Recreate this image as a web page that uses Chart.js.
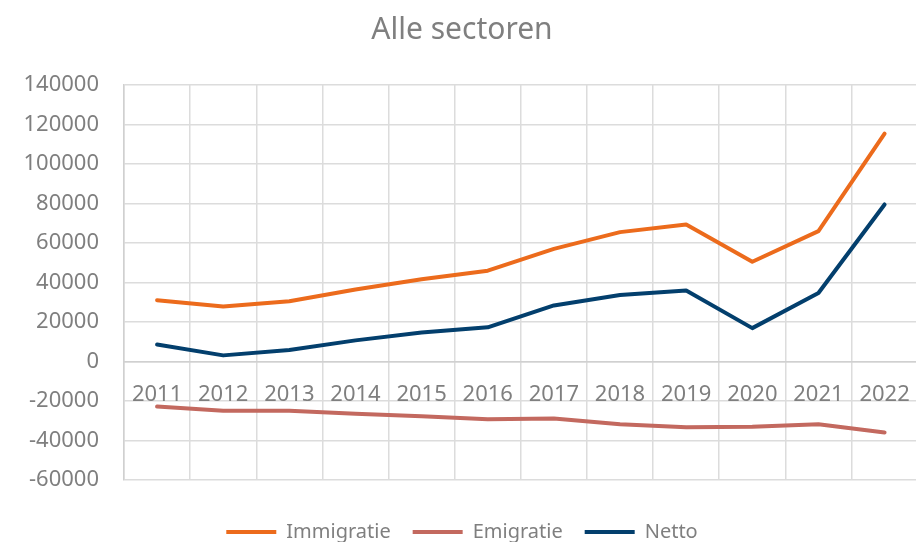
<!DOCTYPE html>
<html>
<head>
<meta charset="utf-8">
<script src="https://cdn.jsdelivr.net/npm/chart.js@4"></script>
<style>
  html, body { margin: 0; padding: 0; background: #fff; overflow: hidden; }
  #wrap { width: 916px; height: 542px; overflow: hidden; }
</style>
</head>
<body>
<div id="wrap"><canvas id="grafiek" width="930" height="552"></canvas></div>
<script>
// jaren en reeksen
const jaren = ['2011', '2012', '2013', '2014', '2015', '2016', '2017', '2018', '2019', '2020', '2021', '2022'];
const immigratie = [31000, 27900, 30500, 36500, 41600, 46000, 57000, 65500, 69400, 50500, 66000, 115400];
const emigratie = [-22800, -24900, -24900, -26400, -27700, -29200, -28900, -31800, -33300, -33000, -31800, -36000];
const netto = [8600, 3100, 5800, 10700, 14700, 17300, 28400, 33700, 36000, 16900, 34700, 79500];

const grijs = '#7f7f7f';
const lijn = (label, data, kleur) => ({
  label, data,
  borderColor: kleur, backgroundColor: kleur,
  borderWidth: 4, borderCapStyle: 'round', borderJoinStyle: 'round',
  pointRadius: 0, tension: 0, fill: false
});

new Chart(document.getElementById('grafiek').getContext('2d'), {
  type: 'line',
  data: {
    labels: jaren,
    datasets: [
      lijn('Immigratie', immigratie, '#ec6b1c'),
      lijn('Emigratie', emigratie, '#c3695f'),
      lijn('Netto', netto, '#033f6d')
    ]
  },
  options: {
    responsive: false,
    animation: false,
    layout: { padding: { left: 0, right: 6, top: 0, bottom: 0 } },
    plugins: {
      title: {
        display: true,
        text: 'Alle sectoren',
        color: grijs,
        font: { family: 'Noto Sans', size: 30, weight: 'normal' },
        padding: { top: 12, bottom: 37 }
      },
      legend: {
        position: 'bottom',
        title: { display: true, text: ' ', font: { size: 10 }, padding: 4 },
        labels: {
          color: grijs,
          font: { family: 'Noto Sans', size: 20 },
          usePointStyle: true,
          pointStyle: 'line',
          pointStyleWidth: 50,
          padding: 22
        }
      },
      tooltip: { enabled: false }
    },
    scales: {
      x: {
        position: { y: 0 },
        offset: true,
        grid: { offset: true, color: '#dcdcdc', lineWidth: 1.5, drawTicks: false },
        border: { color: '#d0d0d0', width: 1.5 },
        ticks: { color: grijs, padding: 20, font: { family: 'Noto Sans', size: 22 } }
      },
      y: {
        min: -60000,
        max: 140000,
        afterFit: s => { s.width = 124; },
        grid: { color: '#dcdcdc', lineWidth: 1.5, drawTicks: false },
        border: { color: '#d0d0d0', width: 1.5 },
        ticks: {
          stepSize: 20000, color: grijs, padding: 25,
          font: { family: 'Noto Sans', size: 22 },
          callback: v => String(v)
        }
      }
    }
  }
});
</script>
</body>
</html>
